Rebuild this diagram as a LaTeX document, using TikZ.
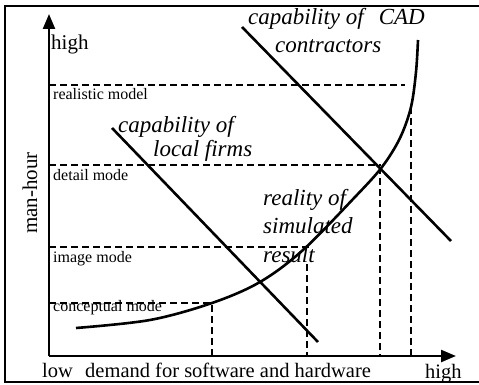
\documentclass[tikz,border=0pt]{standalone}
\usepackage{fontspec}
\setmainfont{Liberation Serif}
\usetikzlibrary{arrows.meta}
\tikzset{
axis/.style={line width=2.4pt, -{Triangle[length=15pt,width=12pt]}},
guide/.style={line width=1.3pt, dash pattern=on 7pt off 4pt},
trend/.style={line width=2.6pt},
modelabel/.style={anchor=base west, inner sep=0pt, font=\fontsize{16}{16}\selectfont},
axislabel/.style={anchor=base west, inner sep=0pt, font=\fontsize{20.5}{20.5}\selectfont},
curvelabel/.style={anchor=base west, inner sep=0pt, font=\fontsize{23}{23}\selectfont\itshape}
}
\begin{document}
\begin{tikzpicture}[x=1pt,y=-1pt]

            \useasboundingbox (0,0) rectangle (479,385);
            \draw[line width=2pt] (479,6) -- (5,6) -- (5,382) -- (479,382);

            % axes
            \coordinate (O) at (49,356);
            \coordinate (Y) at (49,14);
            \coordinate (X) at (456,356);
            \draw[axis] (O) -- (Y);
            \draw[axis] (O) -- (X);
            \node[axislabel, font=\fontsize{21}{21}\selectfont] (yhigh) at (51,50) {high};
            \node[rotate=90, inner sep=0pt, font=\fontsize{21}{21}\selectfont] (yname) at (30,193) {man-hour};
            \node[axislabel] (xlow) at (42,377) {low};
            \node[axislabel] (xname) at (85,377) {demand for software and hardware};
            \node[axislabel] (xhigh) at (425,378) {high};

            % modes
            \coordinate (R) at (49,85);
            \coordinate (D) at (49,165);
            \coordinate (I) at (49,247);
            \coordinate (C) at (49,303);
            \coordinate (Rend) at (405,85);
            \coordinate (Dend) at (381,165);
            \coordinate (Iend) at (309,247);
            \coordinate (Cend) at (212,303);
            \draw[guide] (R) -- (Rend);
            \draw[guide] (D) -- (Dend);
            \draw[guide] (I) -- (Iend);
            \draw[guide] (C) -- (Cend);
            \node[modelabel] (realistic) at (53,100) {realistic model};
            \node[modelabel] (detail) at (53,180) {detail mode};
            \node[modelabel] (image) at (53,262) {image mode};
            \node[modelabel] (conceptual) at (53,311) {conceptual mode};

            % drop lines to the x axis
            \coordinate (v1) at (212,305);
            \coordinate (v2) at (307,264);
            \coordinate (v3) at (380,167);
            \coordinate (v4) at (411,107);
            \foreach \v in {v1,v2,v3,v4}
                \draw[guide] (\v) -- (\v |- O);

            % reality of simulated result
            \draw[trend] plot[smooth, tension=0.55] coordinates {(76,328) (150,320) (212,303) (260,282) (303,250) (355,197) (382,167) (400,138) (411,107) (416,72) (418,40)};
            \node[curvelabel] (real1) at (263,205) {reality of};
            \node[curvelabel] (real2) at (263,233) {simulated};
            \node[curvelabel] (real3) at (263,262) {result};

            % capabilities
            \coordinate (L1) at (112,128);
            \coordinate (L2) at (318,342);
            \coordinate (K1) at (242,27);
            \coordinate (K2) at (451,241);
            \draw[trend] (L1) -- (L2);
            \draw[trend] (K1) -- (K2);
            \node[curvelabel] (local1) at (118,132) {capability of};
            \node[curvelabel] (local2) at (153,157) {local firms};
            \node[curvelabel] (cad1) at (248,25) {capability of\hspace{0.4em} CAD};
            \node[curvelabel] (cad2) at (275,53) {contractors};

\end{tikzpicture}
\end{document}
